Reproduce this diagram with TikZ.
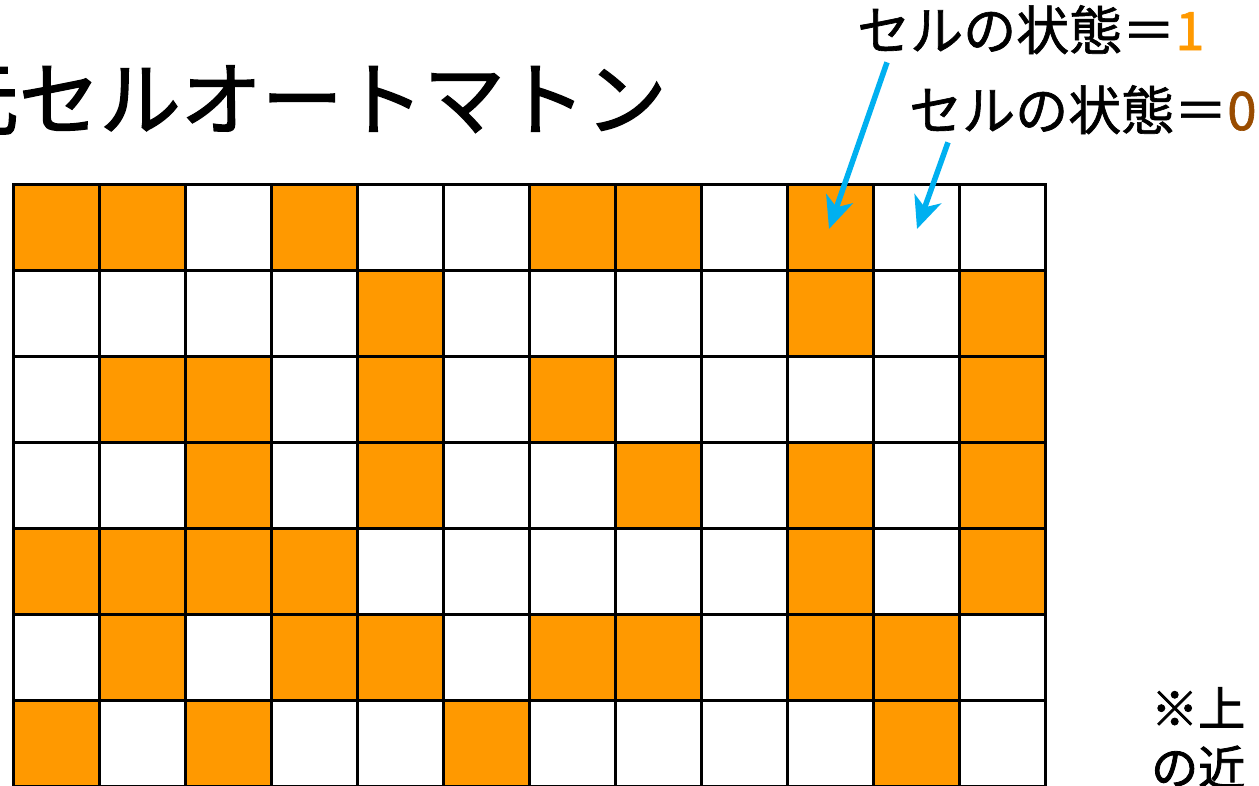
\documentclass[tikz,border=0pt]{standalone}
\usepackage{fontspec}
\newfontfamily\jp{Noto Sans CJK JP}[FakeBold=1.2]
\newfontfamily\jpt{Noto Sans CJK JP}[FakeBold=1.8]
\usetikzlibrary{arrows.meta}
\definecolor{on}{HTML}{FF9900}
\definecolor{offc}{HTML}{994C00}
\definecolor{arr}{HTML}{00B0F0}
\tikzset{
  cell/.style={draw=black,line width=2.6pt,minimum width=86pt,minimum height=86pt,inner sep=0pt,anchor=north west},
  lab/.style={inner sep=0pt,font=\jp\fontsize{53}{56}\selectfont},
  note/.style={inner sep=0pt,anchor=base west,font=\jpt\fontsize{47}{50}\selectfont},
  pointer/.style={arr,line width=5.5pt,-{Stealth[length=32pt,width=28pt,inset=9pt]}}
}
\begin{document}
\begin{tikzpicture}[x=1pt,y=-1pt]
\useasboundingbox (0,0) rectangle (1259,785);
\clip (0,0) rectangle (1259,785);
\fill[white] (0,0) rectangle (1259,785);
\node[inner sep=0pt,anchor=base east,font=\jpt\fontsize{81}{84}\selectfont] (title) at (667,129) {二次元セルオートマトン};
\foreach \r/\pat in {0/{1,1,0,1,0,0,1,1,0,1,0,0},1/{0,0,0,0,1,0,0,0,0,1,0,1},2/{0,1,1,0,1,0,1,0,0,0,0,1},3/{0,0,1,0,1,0,0,1,0,1,0,1},4/{1,1,1,1,0,0,0,0,0,1,0,1},5/{0,1,0,1,1,0,1,1,0,1,1,0},6/{1,0,1,0,0,1,0,0,0,0,1,0}}{
  \foreach \v [count=\c from 0] in \pat {
    \ifnum\v=1
      \node[cell,fill=on] (c-\r-\c) at ({12+86*\c},{183+86*\r}) {};
    \else
      \node[cell,fill=white] (c-\r-\c) at ({12+86*\c},{183+86*\r}) {};
    \fi
  }
}
\node[lab,anchor=base west] (l1) at (857,50) {セルの状態＝\textcolor{on}{1}};
\node[lab,anchor=base west] (l0) at (909,130) {セルの状態＝\textcolor{offc}{0}};
\coordinate (p1) at (829,229);
\coordinate (p0) at (917,229);
\draw[pointer] ([xshift=30pt,yshift=-8pt]l1.south west) -- (p1);
\draw[pointer] ([xshift=39pt,yshift=-8pt]l0.south west) -- (p0);
\node[note] (n1) at (1151,726) {※上};
\node[note] (n2) at (1151,785) {の近};
\end{tikzpicture}
\end{document}
